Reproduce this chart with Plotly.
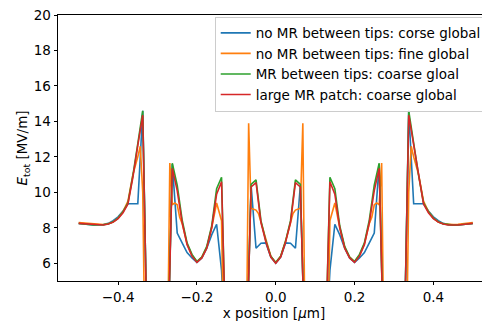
import plotly.graph_objects as go

# shared coarse mesh positions [µm]
x_coarse = [-0.5, -0.4875, -0.475, -0.4625, -0.45, -0.4375, -0.425, -0.4125, -0.4, -0.3875,
            -0.375, -0.3625, -0.35, -0.3375, -0.325, -0.3125, -0.3, -0.2875, -0.275, -0.2625,
            -0.25, -0.2375, -0.225, -0.2125, -0.2, -0.1875, -0.175, -0.1625, -0.15, -0.1375,
            -0.125, -0.1125, -0.1, -0.0875, -0.075, -0.0625, -0.05, -0.0375, -0.025, -0.0125,
            0.0,
            0.0125, 0.025, 0.0375, 0.05, 0.0625, 0.075, 0.0875, 0.1, 0.1125, 0.125,
            0.1375, 0.15, 0.1625, 0.175, 0.1875, 0.2, 0.2125, 0.225, 0.2375, 0.25,
            0.2625, 0.275, 0.2875, 0.3, 0.3125, 0.325, 0.3375, 0.35, 0.3625, 0.375,
            0.3875, 0.4, 0.4125, 0.425, 0.4375, 0.45, 0.4625, 0.475, 0.4875, 0.5]

e_no_mr_coarse = [8.24, 8.23, 8.19, 8.16, 8.16, 8.18, 8.25, 8.40, 8.62, 8.95,
                  9.36, 9.36, 9.36, 14.6, 0, 0, 0, 0, 0, 11.6,
                  7.7, 7.15, 6.6, 6.3, 6.05, 6.3, 6.85, 7.6, 8.2, 5.6,
                  0, 0, 0, 0, 0, 10.4, 6.85, 7.13, 7.15, 6.35,
                  6.0,
                  6.35, 7.15, 7.13, 6.85, 10.4, 0, 0, 0, 0, 0,
                  5.6, 8.2, 7.6, 6.85, 6.3, 6.05, 6.3, 6.6, 7.15, 7.7,
                  11.6, 0, 0, 0, 0, 0, 14.6, 9.36, 9.36, 9.36,
                  8.95, 8.62, 8.40, 8.25, 8.18, 8.16, 8.16, 8.19, 8.23, 8.24]

e_mr_tips = [8.24, 8.23, 8.19, 8.16, 8.15, 8.17, 8.22, 8.34, 8.55, 8.90,
             9.40, 10.95, 12.75, 14.6, 0, 0, 0, 0, 0, 11.64,
             10.4, 8.45, 7.15, 6.5, 6.1, 6.35, 6.95, 8.1, 10.2, 10.85,
             0, 0, 0, 0, 0, 10.45, 10.7, 8.4, 7.25, 6.4,
             6.05,
             6.4, 7.25, 8.4, 10.7, 10.45, 0, 0, 0, 0, 0,
             10.85, 10.2, 8.1, 6.95, 6.35, 6.1, 6.5, 7.15, 8.45, 10.4,
             11.64, 0, 0, 0, 0, 0, 14.6, 12.75, 10.95, 9.40,
             8.90, 8.55, 8.34, 8.22, 8.17, 8.15, 8.16, 8.19, 8.23, 8.24]

e_large_mr = [8.25, 8.23, 8.19, 8.16, 8.15, 8.16, 8.21, 8.32, 8.52, 8.85,
              9.35, 10.85, 12.65, 14.35, 0, 0, 0, 0, 0, 11.35,
              10.1, 8.3, 7.05, 6.4, 6.05, 6.3, 6.85, 8.0, 9.9, 10.6,
              0, 0, 0, 0, 0, 10.3, 10.55, 8.3, 7.2, 6.35,
              6.0,
              6.35, 7.2, 8.3, 10.55, 10.3, 0, 0, 0, 0, 0,
              10.6, 9.9, 8.0, 6.85, 6.3, 6.05, 6.4, 7.05, 8.3, 10.1,
              11.35, 0, 0, 0, 0, 0, 14.35, 12.65, 10.85, 9.35,
              8.85, 8.52, 8.32, 8.21, 8.16, 8.15, 8.16, 8.19, 8.23, 8.25]

# fine mesh positions [µm]
x_fine = [-0.5, -0.4875, -0.475, -0.4625, -0.45, -0.4375, -0.425, -0.4125, -0.4, -0.3875,
          -0.375, -0.3625, -0.35, -0.34375, -0.3375, -0.33125, -0.3, -0.275, -0.26875, -0.2625,
          -0.25625, -0.25, -0.24375, -0.2375, -0.225, -0.2125, -0.2, -0.1875, -0.175, -0.1625,
          -0.15, -0.1375, -0.13125, -0.1, -0.075, -0.06875, -0.0625, -0.05625, -0.05, -0.04375,
          -0.0375, -0.025, -0.0125, 0.0,
          0.0125, 0.025, 0.0375, 0.04375, 0.05, 0.05625, 0.0625, 0.06875, 0.075, 0.1,
          0.13125, 0.1375, 0.15, 0.1625, 0.175, 0.1875, 0.2, 0.2125, 0.225, 0.2375,
          0.24375, 0.25, 0.25625, 0.2625, 0.26875, 0.275, 0.3, 0.33125, 0.3375, 0.34375,
          0.35, 0.3625, 0.375, 0.3875, 0.4, 0.4125, 0.425, 0.4375, 0.45, 0.4625,
          0.475, 0.4875, 0.5]

e_no_mr_fine = [8.29, 8.27, 8.23, 8.20, 8.19, 8.19, 8.23, 8.33, 8.55, 8.92,
                9.5, 11.0, 12.0, 12.6, 10.0, 0, 0, 0, 11.65, 9.3,
                9.4, 9.3, 8.6, 8.25, 7.1, 6.45, 6.1, 6.35, 6.9, 8.0,
                9.4, 8.4, 0, 0, 0, 13.9, 9.1, 9.05, 9.0, 8.8,
                8.3, 7.25, 6.4, 6.05,
                6.4, 7.25, 8.3, 8.8, 9.0, 9.05, 9.1, 13.9, 0, 0,
                0, 8.4, 9.4, 8.0, 6.9, 6.35, 6.1, 6.45, 7.1, 8.25,
                8.6, 9.3, 9.4, 9.3, 11.65, 0, 0, 0, 10.0, 12.6,
                12.0, 11.0, 9.5, 8.92, 8.55, 8.33, 8.23, 8.19, 8.19, 8.20,
                8.23, 8.27, 8.29]

y_ticks = [6, 8, 10, 12, 14, 16, 18, 20]
x_ticks = [-0.4, -0.2, 0.0, 0.2, 0.4]
x_tick_text = ["\u22120.4", "\u22120.2", "0.0", "0.2", "0.4"]

names = ["no MR between tips: corse global",
         "no MR between tips: fine global",
         "MR between tips: coarse gloal",
         "large MR patch: coarse global"]
colors = ["#1f77b4", "#ff7f0e", "#2ca02c", "#d62728"]

series = [(x_coarse, e_no_mr_coarse), (x_fine, e_no_mr_fine),
          (x_coarse, e_mr_tips), (x_coarse, e_large_mr)]

fig = go.Figure()
for (xs, ys), name, c in zip(series, names, colors):
    fig.add_trace(go.Scatter(x=xs, y=ys, mode="lines", name=name,
                             line=dict(color=c, width=1.6)))

FONT = "DejaVu Sans, Verdana, sans-serif"
# the page body adds an 8px offset; the figure is sized to compensate
fig.update_layout(
    width=482, height=313,
    margin=dict(l=50, r=0, t=7, b=40),
    paper_bgcolor="white", plot_bgcolor="white",
    font=dict(family=FONT, size=13.5, color="#000000"),
    showlegend=True,
    legend=dict(x=0.9924, y=0.994, xanchor="right", yanchor="top",
                bgcolor="rgba(255,255,255,0.8)", bordercolor="#cccccc", borderwidth=1,
                font=dict(family=FONT, size=13.5, color="#000000"),
                itemwidth=30, tracegroupgap=0),
    xaxis=dict(range=[-0.5525, 0.5437], tickvals=x_ticks, ticktext=x_tick_text,
               ticks="outside", ticklen=3.5, tickwidth=0.8, tickcolor="#000000",
               ticklabeloverflow="allow",
               showline=True, linecolor="#000000", linewidth=0.8, mirror=True,
               showgrid=False, zeroline=False,
               title=dict(text="x position [<i>\u03bc</i>m]", standoff=2,
                          font=dict(family=FONT, size=13.5))),
    yaxis=dict(range=[5, 20], tickvals=y_ticks,
               ticks="outside", ticklen=3.5, tickwidth=0.8, tickcolor="#000000",
               ticklabeloverflow="allow",
               showline=True, linecolor="#000000", linewidth=0.8, mirror=False,
               showgrid=False, zeroline=False,
               title=dict(text="<i>E</i><sub>tot</sub> [MV/m]", standoff=2,
                          font=dict(family=FONT, size=13.5))),
)

fig.write_html("out.html")
